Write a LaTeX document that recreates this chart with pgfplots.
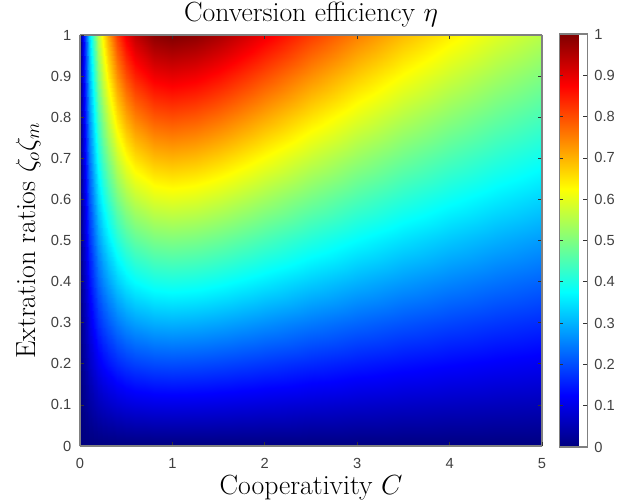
\documentclass[border=0pt]{standalone}
\usepackage{fontspec}
\usepackage{pgfplots}
\pgfplotsset{compat=1.18}
\newfontfamily\tickfont{Liberation Sans}
\definecolor{boxgray}{gray}{0.5}
\definecolor{ticktext}{gray}{0.25}

\begin{document}
\begin{tikzpicture}
\useasboundingbox (-60pt,-42.75pt) rectangle (418.5pt,334.5pt);
\begin{axis}[
    name=main,
    at={(0,0)}, anchor=south west,
    scale only axis,
    width=346.5pt, height=308.25pt,
    view={0}{90},
    xmin=0, xmax=5, ymin=0, ymax=1,
    zmin=0, zmax=1,
    point meta min=0, point meta max=1,
    xtick={0,1,2,3,4,5},
    ytick={0,0.1,...,1},
    axis on top,
    tick align=inside,
    major tick length=3pt,
    axis line style={boxgray, line width=0.8pt},
    tick style={black!80, line width=0.5pt},
    /pgf/number format/assume math mode=true,
    tick label style={font=\tickfont\fontsize{11}{12}\selectfont, text=ticktext},
    xticklabel shift=6pt,
    yticklabel shift=3pt,
    title={\fontsize{20.8}{22}\selectfont Conversion efficiency $\eta$},
    title style={at={(axis description cs:0.5,1.0122)}, anchor=base, yshift=0pt},
    xlabel={\fontsize{20.8}{22}\selectfont Cooperativity $C$},
    xlabel style={at={(axis description cs:0.5,-0.1192)}, anchor=base},
    ylabel={\fontsize{20.8}{22}\selectfont Extration ratios $\zeta_o\zeta_m$},
    ylabel style={at={(axis description cs:-0.0974,0.5)}, anchor=base},
    colormap={mjet}{rgb(0pt)=(0,0,0.5); rgb(1pt)=(0,0,1); rgb(3pt)=(0,1,1); rgb(5pt)=(1,1,0); rgb(7pt)=(1,0,0); rgb(8pt)=(0.5,0,0)},
    colorbar,
    colorbar style={
        at={(parent axis.south east)}, anchor=south west, xshift=4.5pt, yshift=-0.75pt,
        scale only axis,
        width=20.8pt, height=309.75pt,
        ytick={0,0.1,...,1},
        tick align=inside,
        major tick length=3pt,
        yticklabel pos=right,
        yticklabel shift=2pt,
        axis line style={boxgray, line width=0.8pt},
        /pgf/number format/assume math mode=true,
        tick label style={font=\tickfont\fontsize{11}{12}\selectfont, text=ticktext},
    },
]
\addplot3[surf, shader=interp, mesh/cols=23, mesh/ordering=x varies] coordinates {
(0,0,0)(0.03,0,0)(0.06,0,0)(0.1,0,0)(0.15,0,0)(0.2,0,0)(0.25,0,0)(0.3,0,0)(0.4,0,0)(0.5,0,0)(0.6,0,0)(0.8,0,0)(1,0,0)(1.25,0,0)(1.5,0,0)(1.75,0,0)(2,0,0)(2.5,0,0)(3,0,0)(3.5,0,0)(4,0,0)(4.5,0,0)(5,0,0)

(0,0.1,0)(0.03,0.1,0.0113)(0.06,0.1,0.0214)(0.1,0.1,0.0331)(0.15,0.1,0.0454)(0.2,0.1,0.0556)(0.25,0.1,0.064)(0.3,0.1,0.071)(0.4,0.1,0.0816)(0.5,0.1,0.0889)(0.6,0.1,0.0938)(0.8,0.1,0.0988)(1,0.1,0.1)(1.25,0.1,0.0988)(1.5,0.1,0.096)(1.75,0.1,0.0926)(2,0.1,0.0889)(2.5,0.1,0.0816)(3,0.1,0.075)(3.5,0.1,0.0691)(4,0.1,0.064)(4.5,0.1,0.0595)(5,0.1,0.0556)

(0,0.2,0)(0.03,0.2,0.0226)(0.06,0.2,0.0427)(0.1,0.2,0.0661)(0.15,0.2,0.0907)(0.2,0.2,0.1111)(0.25,0.2,0.128)(0.3,0.2,0.142)(0.4,0.2,0.1633)(0.5,0.2,0.1778)(0.6,0.2,0.1875)(0.8,0.2,0.1975)(1,0.2,0.2)(1.25,0.2,0.1975)(1.5,0.2,0.192)(1.75,0.2,0.1851)(2,0.2,0.1778)(2.5,0.2,0.1633)(3,0.2,0.15)(3.5,0.2,0.1383)(4,0.2,0.128)(4.5,0.2,0.119)(5,0.2,0.1111)

(0,0.3,0)(0.03,0.3,0.0339)(0.06,0.3,0.0641)(0.1,0.3,0.0992)(0.15,0.3,0.1361)(0.2,0.3,0.1667)(0.25,0.3,0.192)(0.3,0.3,0.213)(0.4,0.3,0.2449)(0.5,0.3,0.2667)(0.6,0.3,0.2813)(0.8,0.3,0.2963)(1,0.3,0.3)(1.25,0.3,0.2963)(1.5,0.3,0.288)(1.75,0.3,0.2777)(2,0.3,0.2667)(2.5,0.3,0.2449)(3,0.3,0.225)(3.5,0.3,0.2074)(4,0.3,0.192)(4.5,0.3,0.1785)(5,0.3,0.1667)

(0,0.4,0)(0.03,0.4,0.0452)(0.06,0.4,0.0854)(0.1,0.4,0.1322)(0.15,0.4,0.1815)(0.2,0.4,0.2222)(0.25,0.4,0.256)(0.3,0.4,0.284)(0.4,0.4,0.3265)(0.5,0.4,0.3556)(0.6,0.4,0.375)(0.8,0.4,0.3951)(1,0.4,0.4)(1.25,0.4,0.3951)(1.5,0.4,0.384)(1.75,0.4,0.3702)(2,0.4,0.3556)(2.5,0.4,0.3265)(3,0.4,0.3)(3.5,0.4,0.2766)(4,0.4,0.256)(4.5,0.4,0.238)(5,0.4,0.2222)

(0,0.5,0)(0.03,0.5,0.0566)(0.06,0.5,0.1068)(0.1,0.5,0.1653)(0.15,0.5,0.2269)(0.2,0.5,0.2778)(0.25,0.5,0.32)(0.3,0.5,0.3551)(0.4,0.5,0.4082)(0.5,0.5,0.4444)(0.6,0.5,0.4688)(0.8,0.5,0.4938)(1,0.5,0.5)(1.25,0.5,0.4938)(1.5,0.5,0.48)(1.75,0.5,0.4628)(2,0.5,0.4444)(2.5,0.5,0.4082)(3,0.5,0.375)(3.5,0.5,0.3457)(4,0.5,0.32)(4.5,0.5,0.2975)(5,0.5,0.2778)

(0,0.6,0)(0.03,0.6,0.0679)(0.06,0.6,0.1282)(0.1,0.6,0.1984)(0.15,0.6,0.2722)(0.2,0.6,0.3333)(0.25,0.6,0.384)(0.3,0.6,0.4261)(0.4,0.6,0.4898)(0.5,0.6,0.5333)(0.6,0.6,0.5625)(0.8,0.6,0.5926)(1,0.6,0.6)(1.25,0.6,0.5926)(1.5,0.6,0.576)(1.75,0.6,0.5554)(2,0.6,0.5333)(2.5,0.6,0.4898)(3,0.6,0.45)(3.5,0.6,0.4148)(4,0.6,0.384)(4.5,0.6,0.357)(5,0.6,0.3333)

(0,0.7,0)(0.03,0.7,0.0792)(0.06,0.7,0.1495)(0.1,0.7,0.2314)(0.15,0.7,0.3176)(0.2,0.7,0.3889)(0.25,0.7,0.448)(0.3,0.7,0.4971)(0.4,0.7,0.5714)(0.5,0.7,0.6222)(0.6,0.7,0.6563)(0.8,0.7,0.6914)(1,0.7,0.7)(1.25,0.7,0.6914)(1.5,0.7,0.672)(1.75,0.7,0.6479)(2,0.7,0.6222)(2.5,0.7,0.5714)(3,0.7,0.525)(3.5,0.7,0.484)(4,0.7,0.448)(4.5,0.7,0.4165)(5,0.7,0.3889)

(0,0.8,0)(0.03,0.8,0.0905)(0.06,0.8,0.1709)(0.1,0.8,0.2645)(0.15,0.8,0.363)(0.2,0.8,0.4444)(0.25,0.8,0.512)(0.3,0.8,0.5681)(0.4,0.8,0.653)(0.5,0.8,0.7111)(0.6,0.8,0.75)(0.8,0.8,0.7901)(1,0.8,0.8)(1.25,0.8,0.7901)(1.5,0.8,0.768)(1.75,0.8,0.7405)(2,0.8,0.7111)(2.5,0.8,0.653)(3,0.8,0.6)(3.5,0.8,0.5531)(4,0.8,0.512)(4.5,0.8,0.476)(5,0.8,0.4444)

(0,0.9,0)(0.03,0.9,0.1018)(0.06,0.9,0.1922)(0.1,0.9,0.2975)(0.15,0.9,0.4083)(0.2,0.9,0.5)(0.25,0.9,0.576)(0.3,0.9,0.6391)(0.4,0.9,0.7347)(0.5,0.9,0.8)(0.6,0.9,0.8438)(0.8,0.9,0.8889)(1,0.9,0.9)(1.25,0.9,0.8889)(1.5,0.9,0.864)(1.75,0.9,0.833)(2,0.9,0.8)(2.5,0.9,0.7347)(3,0.9,0.675)(3.5,0.9,0.6223)(4,0.9,0.576)(4.5,0.9,0.5355)(5,0.9,0.5)

(0,1,0)(0.03,1,0.1131)(0.06,1,0.2136)(0.1,1,0.3306)(0.15,1,0.4537)(0.2,1,0.5556)(0.25,1,0.64)(0.3,1,0.7101)(0.4,1,0.8163)(0.5,1,0.8889)(0.6,1,0.9375)(0.8,1,0.9877)(1,1,1)(1.25,1,0.9877)(1.5,1,0.96)(1.75,1,0.9256)(2,1,0.8889)(2.5,1,0.8163)(3,1,0.75)(3.5,1,0.6914)(4,1,0.64)(4.5,1,0.595)(5,1,0.5556)
};
\end{axis}
\end{tikzpicture}
\end{document}
